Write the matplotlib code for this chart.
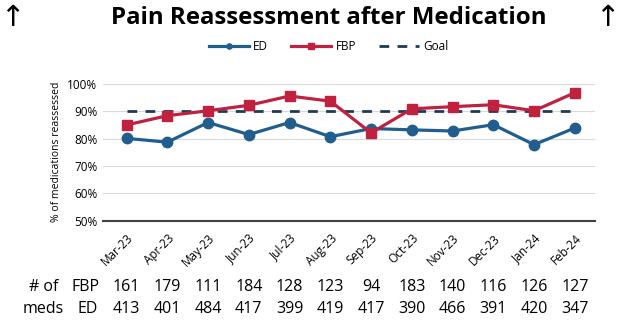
import matplotlib
matplotlib.use('Agg')
import matplotlib.pyplot as plt

# months on the x axis
months = ['Mar-23', 'Apr-23', 'May-23', 'Jun-23', 'Jul-23', 'Aug-23',
          'Sep-23', 'Oct-23', 'Nov-23', 'Dec-23', 'Jan-24', 'Feb-24']
# percent of medications reassessed
ed_pct = [80.1, 78.7, 85.9, 81.5, 85.9, 80.7, 83.7, 83.2, 82.8, 85.1, 77.8, 83.9]
fbp_pct = [85.0, 88.4, 90.2, 92.2, 95.6, 93.7, 82.1, 90.9, 91.7, 92.4, 90.2, 96.8]
goal = 90
# number of meds per month
fbp_meds = [161, 179, 111, 184, 128, 123, 94, 183, 140, 116, 126, 127]
ed_meds = [413, 401, 484, 417, 399, 419, 417, 390, 466, 391, 420, 347]

ed_color = '#215e8e'
fbp_color = '#c0213f'
goal_color = '#1f3a56'
font = 'Open Sans'
plt.rcParams['font.family'] = [font, 'DejaVu Sans']

fig = plt.figure(figsize=(6.2, 3.23), dpi=100)
ax = fig.add_axes([0.166, 0.317, 0.794, 0.423])

x = list(range(len(months)))
ax.plot(x, ed_pct, color=ed_color, lw=2.3, marker='o', ms=7.5, label='ED', zorder=3)
ax.plot(x, fbp_pct, color=fbp_color, lw=2.3, marker='s', ms=7.5, label='FBP', zorder=3)
ax.plot(x, [goal] * len(x), color=goal_color, lw=2, ls=(0, (3.5, 3)), label='Goal', zorder=2)

ax.set_ylim(50, 100)
ax.set_xlim(-0.58, 11.5)
ax.set_yticks([50, 60, 70, 80, 90, 100])
ax.set_yticklabels(['%d%%' % v for v in [50, 60, 70, 80, 90, 100]], fontsize=8.5)
ax.set_xticks(x)
ax.set_xticklabels(months, rotation=45, ha='right', rotation_mode='anchor', fontsize=8.5)
ax.tick_params(axis='both', length=0, pad=4)
ax.tick_params(axis='x', pad=8)
ax.grid(axis='y', color='#d9d9d9', lw=0.8)
for s in ['top', 'right', 'left']:
    ax.spines[s].set_visible(False)
ax.spines['bottom'].set_color('#404040')
ax.spines['bottom'].set_linewidth(1.5)
ax.set_ylabel('% of medications reassessed', fontsize=7.5)

# legend above the plot
leg = fig.legend(loc='center', bbox_to_anchor=(0.53, 0.855), ncol=3, frameon=False,
                 fontsize=8.5, handlelength=3.4, columnspacing=1.9, handletextpad=0.4,
                 markerscale=0.5)

fig.text(0.53, 0.944, 'Pain Reassessment after Medication', ha='center', va='center',
         fontsize=17.3, fontweight='bold')
fig.text(0.02, 0.945, '\u2191', ha='center', va='center', fontsize=21, family='DejaVu Sans')
fig.text(0.98, 0.945, '\u2191', ha='center', va='center', fontsize=21, family='DejaVu Sans')

# table of med counts under the axis
tr = ax.get_xaxis_transform()
for i in x:
    ax.text(i, -0.485, str(fbp_meds[i]), transform=tr, ha='center', va='center', fontsize=11.5)
    ax.text(i, -0.645, str(ed_meds[i]), transform=tr, ha='center', va='center', fontsize=11.5)
fig.text(0.138, 0.111, 'FBP', ha='center', va='center', fontsize=11.5)
fig.text(0.142, 0.043, 'ED', ha='center', va='center', fontsize=11.5)
fig.text(0.07, 0.111, '# of', ha='center', va='center', fontsize=11.5)
fig.text(0.07, 0.043, 'meds', ha='center', va='center', fontsize=11.5)

fig.savefig('out.png', dpi=100)
